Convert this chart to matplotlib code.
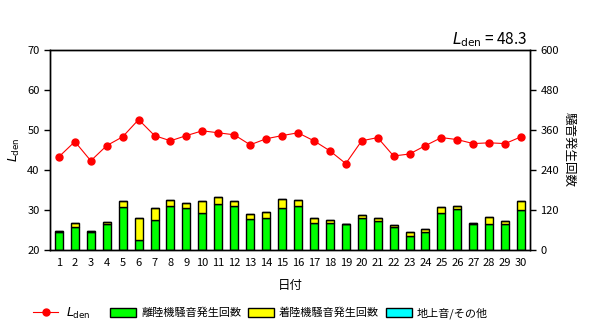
import matplotlib.pyplot as plt
import matplotlib.patches as mpatches
import matplotlib.lines as mlines
import numpy as np

plt.rcParams['font.family'] = ['Noto Sans CJK JP', 'DejaVu Sans']

# データ
days = list(range(1, 31))
lden = [43.3, 47.1, 42.3, 46.1, 48.3, 52.6, 48.6, 47.3, 48.6, 49.8,
        49.3, 48.8, 46.3, 47.8, 48.6, 49.3, 47.3, 44.8, 41.6, 47.3,
        48.1, 43.5, 44.0, 46.1, 48.1, 47.6, 46.6, 46.8, 46.6, 48.3]
takeoff = [55, 68, 55, 77, 128, 30, 89, 131, 125, 110,
           138, 131, 93, 96, 125, 131, 81, 81, 78, 95,
           87, 69, 41, 54, 111, 123, 78, 78, 78, 120]
landing = [2, 13, 3, 7, 19, 65, 37, 19, 16, 37,
           20, 16, 15, 18, 28, 18, 14, 8, 0, 9,
           8, 5, 13, 8, 18, 8, 2, 21, 9, 26]
ground = [0] * 30
lden_month = 48.3

fig = plt.figure(figsize=(6, 3.29), dpi=100)
ax = fig.add_axes([50 / 600, 1 - 250 / 329, 480 / 600, 200 / 329])
ax2 = ax.twinx()

# 棒グラフ(右軸)
x = np.array(days)
ax2.bar(x, takeoff, width=0.5, color='#00ff00', edgecolor='black', linewidth=1)
ax2.bar(x, landing, width=0.5, bottom=takeoff, color='#ffff00', edgecolor='black', linewidth=1)
bottom2 = np.array(takeoff) + np.array(landing)
ax2.bar(x, ground, width=0.5, bottom=bottom2, color='#00ffff', edgecolor='black', linewidth=1)
ax2.set_ylim(0, 600)
ax2.set_yticks([0, 120, 240, 360, 480, 600])
ax2.set_ylabel('騒音発生回数', rotation=-90, labelpad=12, fontsize=9)

# 折れ線(左軸)
ax.set_zorder(ax2.get_zorder() + 1)
ax.patch.set_visible(False)
ax.plot(x, lden, color='red', marker='o', markersize=5, linewidth=0.8)
ax.set_ylim(20, 70)
ax.set_yticks([20, 30, 40, 50, 60, 70])
ax.set_xlim(0.44, 30.56)
ax.set_xticks(days)
ax.set_ylabel(r'$\mathit{L}_{\mathrm{den}}$', fontsize=9, labelpad=4)
ax.set_xlabel('日付', fontsize=9, labelpad=8)

for a in (ax, ax2):
    a.tick_params(labelsize=8, width=1, length=4)
    for s in a.spines.values():
        s.set_linewidth(1)
ax.tick_params(axis='x', length=0, pad=6)

fig.text(527 / 600, 1 - 40 / 329, r'$\mathit{L}_{\mathrm{den}}$ = %.1f' % lden_month,
         ha='right', va='center', fontsize=11)

# 凡例
h_line = mlines.Line2D([], [], color='red', marker='o', markersize=5, linewidth=0.8)
h_g = mpatches.Patch(facecolor='#00ff00', edgecolor='black')
h_y = mpatches.Patch(facecolor='#ffff00', edgecolor='black')
h_c = mpatches.Patch(facecolor='#00ffff', edgecolor='black')
fig.legend([h_line], [r'$\mathit{L}_{\mathrm{den}}$'],
           loc='center left', bbox_to_anchor=(22 / 600, 1 - 313 / 329),
           frameon=False, fontsize=9, handlelength=2.0, handletextpad=0.6)
fig.legend([h_g, h_y, h_c],
           ['離陸機騒音発生回数', '着陸機騒音発生回数', '地上音/その他'],
           loc='center left', bbox_to_anchor=(100 / 600, 1 - 313 / 329), ncol=3,
           frameon=False, fontsize=8, handlelength=2.35, handleheight=0.8,
           columnspacing=0.6, handletextpad=0.45)

fig.savefig('out.png', dpi=100)
